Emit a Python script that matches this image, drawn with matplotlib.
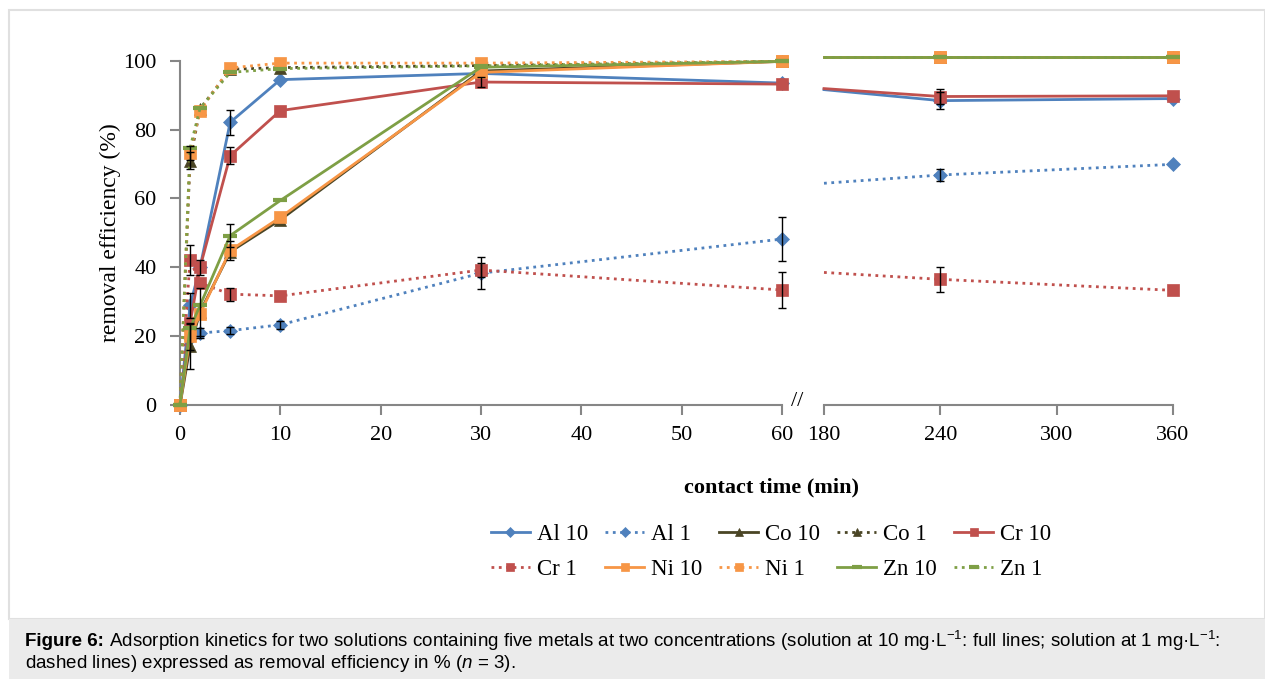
import matplotlib
matplotlib.use('Agg')
import matplotlib.pyplot as plt
from matplotlib.patches import Rectangle
import numpy as np

plt.rcParams['font.family'] = ['Liberation Serif', 'DejaVu Serif']
plt.rcParams['mathtext.fontset'] = 'custom'
plt.rcParams['mathtext.rm'] = 'Liberation Sans'
plt.rcParams['mathtext.it'] = 'Liberation Sans:italic'
plt.rcParams['mathtext.bf'] = 'Liberation Sans:bold'

# contact times (min)
t_left = [0, 1, 2, 5, 10, 30, 60]
t_right = [180, 240, 360]

# removal efficiency (%), 10 mg/L and 1 mg/L solutions
al10 = [0, 28.9, 40.0, 82.1, 94.5, 96.3, 93.5]
al10_r = [91.6, 88.4, 89.0]
al1 = [0, 19.5, 20.9, 21.6, 23.3, 38.3, 48.2]
al1_r = [64.4, 66.8, 69.9]
co10 = [0, 17.0, 27.0, 44.5, 53.8, 97.0, 99.8]
co10_r = [101.1, 101.1, 101.1]
co1 = [0, 71.0, 86.0, 97.5, 98.0, 98.6, 99.8]
co1_r = [101.1, 101.1, 101.1]
cr10 = [0, 23.7, 40.0, 72.4, 85.5, 93.8, 93.2]
cr10_r = [91.9, 89.6, 89.8]
cr1 = [0, 42.2, 35.4, 32.2, 31.7, 39.2, 33.4]
cr1_r = [38.5, 36.5, 33.3]
ni10 = [0, 19.9, 26.5, 44.9, 54.5, 96.6, 99.8]
ni10_r = [101.1, 101.1, 101.1]
ni1 = [0, 73.2, 85.5, 97.9, 99.3, 99.3, 99.8]
ni1_r = [101.1, 101.1, 101.1]
zn10 = [0, 22.3, 28.9, 49.2, 59.4, 98.1, 99.8]
zn10_r = [101.1, 101.1, 101.1]
zn1 = [0, 74.6, 86.2, 96.6, 97.7, 98.5, 99.8]
zn1_r = [101.1, 101.1, 101.1]

# standard deviations (n = 3), 0 = no bar shown
al10_err = [0, 3.5, 0, 3.6, 0, 0, 0]
al10_r_err = [0, 2.4, 0]
al1_err = [0, 0, 1.5, 1.0, 1.2, 4.7, 6.3]
al1_r_err = [0, 1.8, 0]
co10_err = [0, 6.5, 7.0, 0, 0, 0, 0]
co1_err = [0, 2.5, 0, 0, 0, 0, 0]
cr10_err = [0, 0, 2.2, 2.5, 0, 1.5, 0]
cr10_r_err = [0, 2.2, 0]
cr1_err = [0, 4.4, 0, 1.9, 0, 2.0, 5.1]
cr1_r_err = [0, 3.6, 0]
ni10_err = [0, 4.0, 0, 2.8, 0, 0, 0]
ni1_err = [0, 2.0, 0, 0, 0, 0, 0]
zn10_err = [0, 0, 0, 3.3, 0, 0, 0]
zn1_err = [0, 0, 0, 0, 0, 0, 0]
zero_r = [0, 0, 0]

blue, red, green, orange, olive = '#4F81BD', '#C0504D', '#7E9F45', '#F79646', '#4A4525'
grey = '#868686'

series = [
    ('Al 10', al10, al10_r, al10_err, al10_r_err, blue, '-', 'D', 7),
    ('Al 1', al1, al1_r, al1_err, al1_r_err, blue, ':', 'D', 7),
    ('Co 10', co10, co10_r, co10_err, zero_r, olive, '-', '^', 8),
    ('Co 1', co1, co1_r, co1_err, zero_r, olive, ':', '^', 8),
    ('Cr 10', cr10, cr10_r, cr10_err, cr10_r_err, red, '-', 's', 9),
    ('Cr 1', cr1, cr1_r, cr1_err, cr1_r_err, red, ':', 's', 9),
    ('Ni 10', ni10, ni10_r, ni10_err, zero_r, orange, '-', 's', 9),
    ('Ni 1', ni1, ni1_r, ni1_err, zero_r, orange, ':', 's', 9),
    ('Zn 10', zn10, zn10_r, zn10_err, zero_r, green, '-', '_', 10),
    ('Zn 1', zn1, zn1_r, zn1_err, zero_r, green, ':', '_', 10),
]

fig = plt.figure(figsize=(12.65, 6.79), dpi=100)

# frame and caption box
fig.patches.append(Rectangle((9 / 1265, 1 - 619 / 679), 1 - 9 / 1265, (619 - 10) / 679,
                             transform=fig.transFigure, fill=False, edgecolor='#e0e0e0', lw=1.5))
fig.patches.append(Rectangle((9 / 1265, 0), 1 - 9 / 1265, 60 / 679,
                             transform=fig.transFigure, facecolor='#ebebeb', edgecolor='none'))

ax1 = fig.add_axes([180 / 1265, 1 - 405 / 679, 602 / 1265, 344.3 / 679])
ax2 = fig.add_axes([824 / 1265, 1 - 405 / 679, 349 / 1265, 344.3 / 679])

handles = []
for name, yl, yr, el, er, c, ls, m, ms in series:
    mew = 3 if m == '_' else 0.5
    h, = ax1.plot(t_left, yl, color=c, ls=ls, lw=2, marker=m, ms=ms, mfc=c, mec=c,
                  mew=mew, clip_on=False, label=name, zorder=3)
    ax2.plot(t_right, yr, color=c, ls=ls, lw=2, marker=m, ms=ms, mfc=c, mec=c,
             mew=mew, markevery=[1, 2], clip_on=False, zorder=3)
    handles.append(h)
    for ax, tx, yy, ee in ((ax1, t_left, yl, el), (ax2, t_right, yr, er)):
        tx, yy, ee = np.array(tx), np.array(yy), np.array(ee)
        k = ee > 0
        if k.any():
            ax.errorbar(tx[k], yy[k], yerr=ee[k], fmt='none', ecolor='black',
                        elinewidth=1, capsize=3, capthick=1, clip_on=False, zorder=4)

ax1.set_xlim(0, 60)
ax1.set_ylim(0, 100)
ax1.set_xticks(range(0, 61, 10))
ax1.set_yticks(range(0, 101, 20))
ax2.set_xlim(180, 360)
ax2.set_ylim(0, 100)
ax2.set_xticks([180, 240, 300, 360])
ax2.set_yticks([])

for ax in (ax1, ax2):
    for s in ('top', 'right'):
        ax.spines[s].set_visible(False)
    ax.spines['bottom'].set_color(grey)
    ax.spines['left'].set_color(grey)
    ax.spines['bottom'].set_linewidth(1.5)
    ax.spines['left'].set_linewidth(1.5)
    ax.tick_params(axis='both', colors=grey, labelcolor='black', labelsize=16,
                   length=7, width=1.5, pad=8)
    ax.patch.set_alpha(0)
ax1.tick_params(axis='y', pad=10)
ax2.spines['left'].set_visible(False)

fig.text(797 / 1265, 1 - 402 / 679, '//', fontsize=16, ha='center', va='center')
fig.text(110 / 1265, 1 - 233 / 679, 'removal efficiency (%)', fontsize=17,
         rotation=90, ha='center', va='center')
fig.text(771 / 1265, 1 - 487 / 679, 'contact time (min)', fontsize=16,
         fontweight='bold', ha='center', va='center')

order = [0, 5, 1, 6, 2, 7, 3, 8, 4, 9]
fig.legend([handles[i] for i in order], [series[i][0] for i in order],
           loc='center', bbox_to_anchor=(771 / 1265, 1 - 552 / 679), ncol=5,
           frameon=False, fontsize=16.5, handlelength=1.7, handletextpad=0.3,
           columnspacing=0.75, labelspacing=0.65, borderaxespad=0, markerscale=0.7)

# caption
sans = ['Liberation Sans', 'DejaVu Sans']
cap_size = 13.5
fig.canvas.draw()
r = fig.canvas.get_renderer()
b = fig.text(25 / 1265, 1 - 641 / 679, 'Figure 6:', fontsize=cap_size, family=sans,
             fontweight='bold', va='center', ha='left')
w = b.get_window_extent(renderer=r).width
fig.text((25 + w) / 1265, 1 - 641 / 679,
         ' Adsorption kinetics for two solutions containing five metals at two concentrations '
         '(solution at 10 mg·L$^{-1}$: full lines; solution at 1 mg·L$^{-1}$:',
         fontsize=cap_size, family=sans, va='center', ha='left')
fig.text(25 / 1265, 1 - 664 / 679,
         r'dashed lines) expressed as removal efficiency in % ($\mathit{n}$ = 3).',
         fontsize=cap_size, family=sans, va='center', ha='left')

fig.savefig('out.png', dpi=100)
